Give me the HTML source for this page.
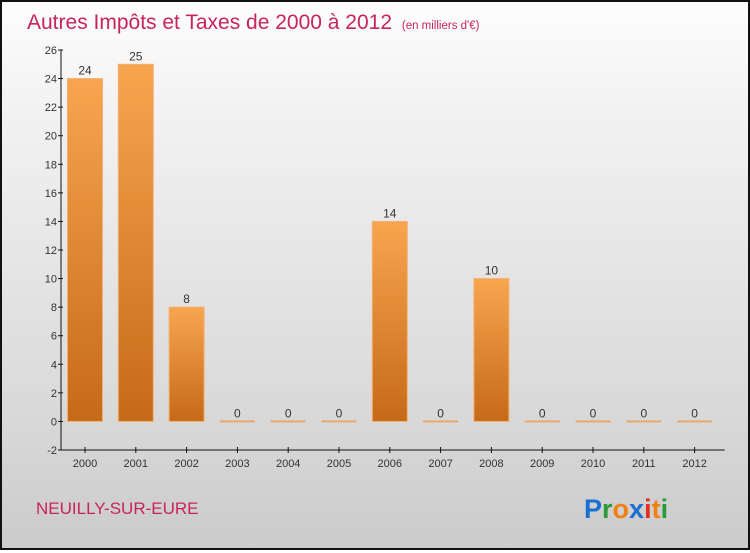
<!DOCTYPE html>
<html><head><meta charset="utf-8"><style>
html,body{margin:0;padding:0}
body{width:750px;height:550px;overflow:hidden;font-family:"Liberation Sans",sans-serif}
#wrap{position:absolute;left:0;top:0;width:746px;height:546px;border:2px solid #111;background:linear-gradient(#fdfdfd,#f2f2f2 20%,#d9d9d9 75%,#cbcbcb)}
</style></head><body>
<div id="wrap">
<svg width="746" height="546">
<defs><linearGradient id="bg" x1="0" y1="0" x2="0" y2="1"><stop offset="0" stop-color="#f8a550"/><stop offset="1" stop-color="#c56a18"/></linearGradient></defs>
<text x="25" y="27" font-size="21" fill="#c8245a">Autres Impôts et Taxes de 2000 à 2012 <tspan font-size="11.5" dx="4">(en milliers d'€)</tspan></text>
<g id="plot"></g>
<text x="34" y="512" font-size="17" fill="#c8245a">NEUILLY-SUR-EURE</text>
<text x="582" y="516" font-size="27" font-weight="bold"><tspan fill="#1a6fd0">P</tspan><tspan fill="#2a9a3a">r</tspan><tspan fill="#f08010">o</tspan><tspan fill="#1a6fd0">x</tspan><tspan fill="#e03020">i</tspan><tspan fill="#f08010">t</tspan><tspan fill="#2a9a3a">i</tspan></text>
</svg></div>
<script>
const years=["2000","2001","2002","2003","2004","2005","2006","2007","2008","2009","2010","2011","2012"];
const values=[24,25,8,0,0,0,14,0,10,0,0,0,0];
const yTicks=[-2,0,2,4,6,8,10,12,14,16,18,20,22,24,26];
const NS="http://www.w3.org/2000/svg",g=document.getElementById('plot');
const x0=59,yMin=-2,yMax=26,yBot=448,yTop=48,step=50.8,bw=35;
const Y=v=>yBot-(v-yMin)*(yBot-yTop)/(yMax-yMin);
const X=i=>x0+24+i*step;
function mk(t,a,txt){const e=document.createElementNS(NS,t);for(const k in a)e.setAttribute(k,a[k]);if(txt!=null)e.textContent=txt;g.appendChild(e);return e;}
let e=mk('line',{x1:x0,y1:yTop,x2:x0,y2:yBot,stroke:'#111'});

e=mk('line',{x1:x0,y1:yBot,x2:X(12)+30,y2:yBot,stroke:'#111'});

yTicks.forEach(t=>{
 mk('line',{x1:x0-3,y1:Y(t),x2:x0+2,y2:Y(t),stroke:'#111'});
 e=mk('text',{x:x0-4,y:Y(t)+4,'font-size':11,fill:'#333','text-anchor':'end'},t);
 
});
years.forEach((yr,i)=>{
 const cx=X(i),v=values[i];
 mk('line',{x1:cx,y1:yBot-3,x2:cx,y2:yBot+3,stroke:'#111'});
 e=mk('text',{x:cx,y:yBot+17,'font-size':11,fill:'#333','text-anchor':'middle'},yr);
 
 if(v>0){e=mk('rect',{x:cx-bw/2,y:Y(v),width:bw,height:Y(0)-Y(v),fill:'url(#bg)',stroke:'#f5b070','stroke-width':1});}
 else{e=mk('rect',{x:cx-bw/2,y:Y(0)-1,width:bw,height:2,fill:'#e8a870'});}
 
 e=mk('text',{x:cx,y:Y(v)-4,'font-size':12,fill:'#333','text-anchor':'middle'},v);
 
});
</script>
</body></html>
